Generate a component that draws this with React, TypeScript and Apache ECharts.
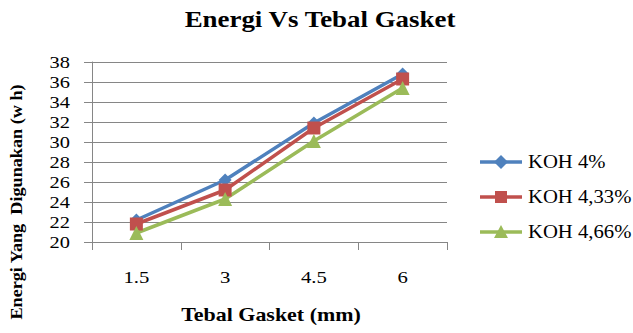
import React, { useEffect, useRef } from "react";
import * as echarts from "echarts";

const categories = ["1.5", "3", "4.5", "6"];
const yTickValues = [20, 22, 24, 26, 28, 30, 32, 34, 36, 38];
const koh4 = [22.2, 26.2, 31.9, 36.8];
const koh433 = [21.8, 25.2, 31.4, 36.3];
const koh466 = [20.9, 24.3, 30.1, 35.4];
const seriesNames = ["KOH 4%", "KOH 4,33%", "KOH 4,66%"];
const seriesColors = ["#4F81BD", "#C0504D", "#9BBB59"];

const FONT = "Liberation Serif";

export default function App() {
  const ref = useRef<HTMLDivElement>(null);
  useEffect(() => {
    const chart = echarts.init(ref.current!, null, { renderer: "svg" });
    const mk = (name: string, data: number[], color: string, symbol: string, size: number) => ({
      name,
      type: "line",
      data,
      symbol,
      symbolSize: size,
      showSymbol: true,
      lineStyle: { color, width: 3.5 },
      itemStyle: { color },
      z: 3,
    });
    chart.setOption({
      animation: false,
      grid: { left: 92, right: 186, top: 62, bottom: 91 },
      xAxis: {
        type: "category",
        data: categories,
        boundaryGap: true,
        axisLine: { lineStyle: { color: "#868686", width: 1 } },
        axisTick: { show: true, length: 8, alignWithLabel: false, lineStyle: { color: "#868686" } },
        axisLabel: { show: false },
        splitLine: { show: false },
      },
      yAxis: {
        type: "value",
        min: yTickValues[0],
        max: yTickValues[yTickValues.length - 1],
        interval: 2,
        axisLine: { show: true, lineStyle: { color: "#868686", width: 1 } },
        axisTick: { show: true, length: 8, lineStyle: { color: "#868686" } },
        axisLabel: { show: false },
        splitLine: { show: true, lineStyle: { color: "#868686", width: 1 } },
      },
      series: [
        mk(seriesNames[0], koh4, seriesColors[0], "diamond", 13),
        mk(seriesNames[1], koh433, seriesColors[1], "rect", 13),
        mk(seriesNames[2], koh466, seriesColors[2], "triangle", 14),
      ],
    });

    const g: any[] = [];
    // title and axis names
    g.push({
      type: "text", x: 320, y: 19, scaleX: 1.17,
      style: { text: "Energi Vs Tebal Gasket", fontFamily: FONT, fontWeight: "bold", fontSize: 23, fill: "#000", textAlign: "center", textVerticalAlign: "middle" },
    });
    g.push({
      type: "text", x: 16, y: 202, rotation: Math.PI / 2, scaleX: 1.07,
      style: { text: "Energi Yang  Digunakan (w h)", fontFamily: FONT, fontWeight: "bold", fontSize: 17, fill: "#000", textAlign: "center", textVerticalAlign: "middle" },
    });
    g.push({
      type: "text", x: 271, y: 315, scaleX: 1.22,
      style: { text: "Tebal Gasket (mm)", fontFamily: FONT, fontWeight: "bold", fontSize: 18, fill: "#000", textAlign: "center", textVerticalAlign: "middle" },
    });
    // y tick labels placed through the axis scale
    yTickValues.forEach((v) => {
      const py = chart.convertToPixel({ yAxisIndex: 0 }, v) as number;
      g.push({
        type: "text", x: 70, y: py, scaleX: 1.2,
        style: { text: String(v), fontFamily: FONT, fontSize: 17, fill: "#000", textAlign: "right", textVerticalAlign: "middle" },
      });
    });
    // x category labels placed through the axis scale
    categories.forEach((c, i) => {
      const px = chart.convertToPixel({ xAxisIndex: 0 }, i) as number;
      g.push({
        type: "text", x: px, y: 277, scaleX: 1.22,
        style: { text: c, fontFamily: FONT, fontSize: 17, fill: "#000", textAlign: "center", textVerticalAlign: "middle" },
      });
    });
    // legend
    seriesNames.forEach((name, i) => {
      const y = 162 + i * 35;
      const color = seriesColors[i];
      g.push({ type: "line", shape: { x1: 480, y1: y, x2: 522, y2: y }, style: { stroke: color, lineWidth: 3.5 } });
      if (i === 0) {
        g.push({ type: "polygon", shape: { points: [[501, y - 7], [508, y], [501, y + 7], [494, y]] }, style: { fill: color } });
      } else if (i === 1) {
        g.push({ type: "rect", shape: { x: 495, y: y - 6, width: 12, height: 12 }, style: { fill: color } });
      } else {
        g.push({ type: "polygon", shape: { points: [[501, y - 7], [508, y + 6], [494, y + 6]] }, style: { fill: color } });
      }
      g.push({
        type: "text", x: 528, y: y, scaleX: 1.15,
        style: { text: name, fontFamily: FONT, fontSize: 18, fill: "#000", textAlign: "left", textVerticalAlign: "middle" },
      });
    });
    chart.setOption({ graphic: g });
    return () => chart.dispose();
  }, []);
  return <div ref={ref} style={{ width: 633, height: 333, position: "absolute", left: 0, top: 0, background: "#fff" }} />;
}
